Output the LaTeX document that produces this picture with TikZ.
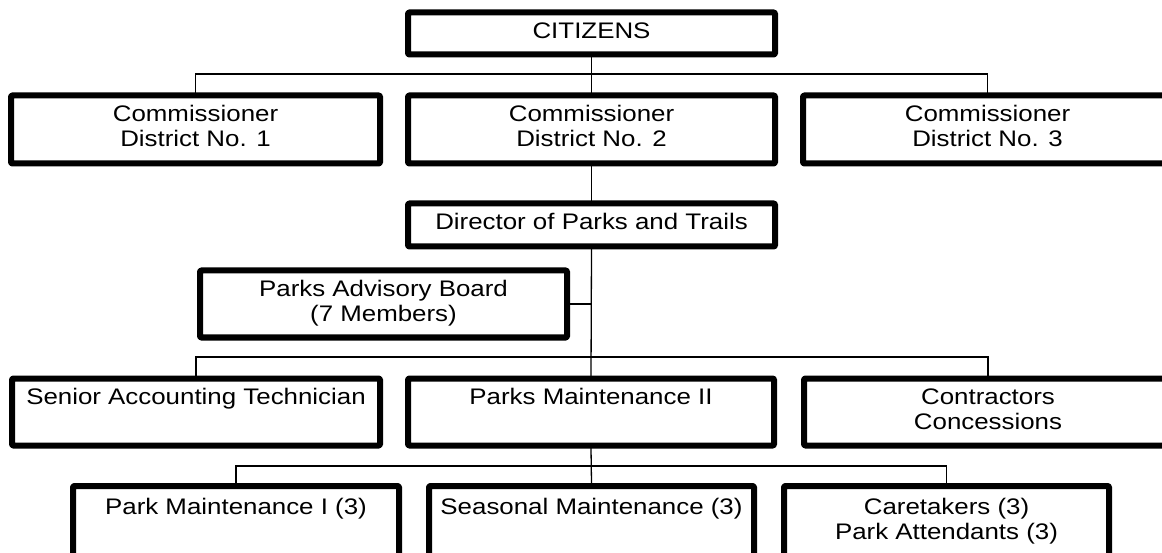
\documentclass[tikz,border=0pt]{standalone}
\usepackage{fontspec}
\setmainfont{Liberation Sans}[FakeStretch=1.15]
% centred block of lines whose baseline is that of the first line
\newcommand{\boxlines}[1]{{\setlength{\tabcolsep}{0pt}\begin{tabular}[t]{c}#1\end{tabular}}}
\begin{document}
\begin{tikzpicture}[x=1pt, y=-1pt,
  orgbox/.style={draw, fill=white, line width=6pt, inner sep=0pt,
    line join=round, rounded corners=1pt,
    font=\fontsize{22.5}{25}\selectfont},
  link/.style={line width=1.3pt, line cap=rect}]

\useasboundingbox (0,0) rectangle (1162,553);
\clip (0,0) rectangle (1162,553);

% boxes
\node[orgbox, minimum width=367, minimum height=42] (citz) at (591.5,33.5)
  {\boxlines{CITIZENS}};
\node[orgbox, minimum width=369, minimum height=68] (c1) at (195.5,129.5)
  {\boxlines{Commissioner\\District No. 1}};
\node[orgbox, minimum width=367, minimum height=68] (c2) at (591.5,129.5)
  {\boxlines{Commissioner\\District No. 2}};
\node[orgbox, minimum width=369, minimum height=68] (c3) at (987.5,129.5)
  {\boxlines{Commissioner\\District No. 3}};
\node[orgbox, minimum width=367, minimum height=43] (dir) at (591.5,225)
  {\boxlines{Director of Parks and Trails}};
\node[orgbox, minimum width=367, minimum height=67] (adv) at (383.5,304)
  {\boxlines{Parks Advisory Board\\(7 Members)}};
\node[orgbox, minimum width=368, minimum height=67] (sen) at (196,412)
  {\boxlines{Senior Accounting Technician\\~}};
\node[orgbox, minimum width=366, minimum height=67] (pm2) at (591,412)
  {\boxlines{Parks Maintenance II\\~}};
\node[orgbox, minimum width=368, minimum height=67] (con) at (988,412)
  {\boxlines{Contractors\\Concessions}};
\node[orgbox, minimum width=326, minimum height=71] (pm1) at (236,521.5)
  {\boxlines{Park Maintenance I (3)\\~}};
\node[orgbox, minimum width=325, minimum height=71] (sea) at (591.5,521.5)
  {\boxlines{Seasonal Maintenance (3)\\~}};
\node[orgbox, minimum width=325, minimum height=71] (car) at (946.5,521.5)
  {\boxlines{Caretakers (3)\\Park Attendants (3)}};

% bus levels
\coordinate (topbus) at (0,74);
\coordinate (midbus) at (0,357);
\coordinate (lowbus) at (0,466);

% connectors
\draw[link] (citz.south) -- (c2.north);
\draw[link] (c1.north) |- (citz.south |- topbus) -| (c3.north);
\draw[link] (c2.south) -- (dir.north);
\draw[link] (dir.south) -- (pm2.north);
\draw[link] (adv.east) -- (adv.east -| dir.south);
\draw[link] (sen.north) |- (dir.south |- midbus) -| (con.north);
\draw[link] (pm2.south) -- (sea.north);
\draw[link] (pm1.north) |- (pm2.south |- lowbus) -| (car.north);
\end{tikzpicture}
\end{document}
